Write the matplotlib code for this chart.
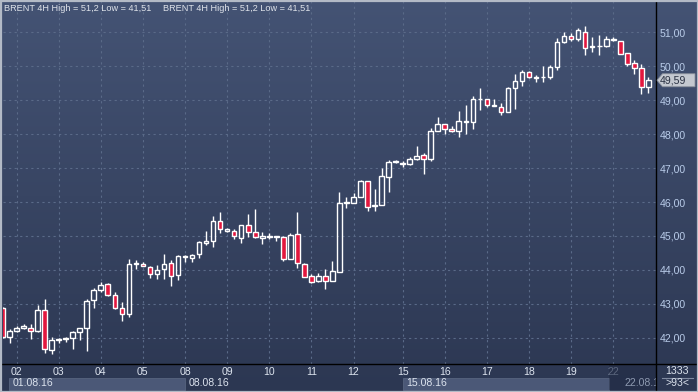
import numpy as np
import matplotlib
matplotlib.use("Agg")
import matplotlib.pyplot as plt
from matplotlib.colors import LinearSegmentedColormap
from matplotlib.patches import Rectangle, Polygon
from matplotlib.lines import Line2D
from matplotlib.transforms import blended_transform_factory, Bbox, TransformedBbox

# ---------------- data (BRENT, 4H candles, 01.08.16 - 22.08.16) ----------------
opens = [42.88, 42.01, 42.20, 42.29, 42.30, 42.21, 42.83, 41.65, 41.93, 41.97,
         41.98, 42.17, 42.29, 43.10, 43.42, 43.59, 43.27, 42.88, 42.70, 44.17,
         44.17, 44.09, 43.87, 44.03, 44.19, 43.86, 44.38, 44.36, 44.46, 44.80,
         44.86, 45.43, 45.15, 45.16, 44.95, 45.32, 45.13, 44.93, 44.96, 44.98,
         44.96, 44.32, 45.05, 44.17, 43.82, 43.67, 43.81, 43.68, 43.94, 45.98,
         45.98, 46.16, 46.61, 45.88, 45.91, 46.75, 47.18, 47.12, 47.12, 47.26,
         47.38, 47.26, 48.10, 48.29, 48.15, 48.09, 48.37, 48.36, 49.03, 49.04,
         48.84, 48.80, 48.66, 49.36, 49.57, 49.83, 49.67, 49.68, 49.68, 49.98,
         50.73, 50.88, 50.82, 51.02, 50.56, 50.60, 50.61, 50.79, 50.75, 50.39,
         50.09, 49.95, 49.39]
highs = [42.90, 42.27, 42.34, 42.39, 42.39, 42.97, 43.15, 42.03, 42.00, 42.03,
         42.19, 42.30, 43.15, 43.46, 43.64, 43.62, 43.36, 43.05, 44.31, 44.30,
         44.22, 44.11, 44.13, 44.47, 44.28, 44.44, 44.45, 44.46, 44.85, 45.15,
         45.58, 45.72, 45.23, 45.21, 45.31, 45.64, 45.78, 45.13, 45.09, 45.01,
         45.01, 45.09, 45.70, 44.21, 43.88, 43.90, 44.03, 44.25, 46.31, 46.16,
         46.28, 46.66, 46.62, 46.39, 47.00, 47.25, 47.25, 47.20, 47.32, 47.66,
         47.44, 48.18, 48.52, 48.30, 48.24, 48.68, 48.85, 49.12, 49.36, 49.04,
         49.04, 48.92, 49.38, 49.76, 49.90, 49.87, 49.75, 50.00, 50.04, 50.85,
         51.02, 50.97, 51.12, 51.20, 50.87, 50.92, 50.89, 50.87, 50.76, 50.40,
         50.19, 50.07, 49.70]
lows = [41.98, 41.85, 42.16, 42.25, 41.96, 42.17, 41.55, 41.51, 41.85, 41.88,
        41.66, 41.94, 41.62, 42.87, 43.34, 43.24, 42.85, 42.50, 42.62, 44.04,
        44.10, 43.76, 43.74, 43.73, 43.51, 43.70, 44.23, 44.23, 44.35, 44.73,
        44.68, 45.08, 45.12, 44.90, 44.80, 44.98, 44.93, 44.75, 44.90, 44.86,
        44.26, 44.31, 44.05, 43.78, 43.62, 43.64, 43.43, 43.66, 43.94, 45.83,
        45.96, 46.15, 45.75, 45.75, 45.91, 46.31, 47.14, 47.02, 47.10, 47.23,
        46.83, 47.20, 48.08, 48.00, 48.07, 47.91, 48.02, 48.14, 48.72, 48.80,
        48.82, 48.56, 48.66, 48.75, 49.41, 49.66, 49.53, 49.55, 49.62, 49.90,
        50.68, 50.75, 50.75, 50.32, 50.43, 50.34, 50.58, 50.75, 50.35, 50.01,
        49.77, 49.17, 49.21]
closes = [42.01, 42.20, 42.29, 42.35, 42.21, 42.83, 41.66, 41.92, 41.97, 42.00,
          42.17, 42.29, 43.08, 43.42, 43.56, 43.27, 42.88, 42.71, 44.18, 44.19,
          44.11, 43.87, 44.00, 44.16, 43.83, 44.42, 44.42, 44.45, 44.81, 44.86,
          45.43, 45.20, 45.19, 45.00, 45.31, 45.11, 44.96, 44.99, 45.00, 45.00,
          44.31, 45.02, 44.21, 43.79, 43.65, 43.81, 43.68, 43.98, 45.98, 46.00,
          46.16, 46.61, 45.85, 45.90, 46.78, 47.18, 47.20, 47.14, 47.26, 47.36,
          47.26, 48.10, 48.29, 48.15, 48.10, 48.39, 48.38, 49.04, 49.04, 48.85,
          48.85, 48.66, 49.36, 49.58, 49.83, 49.69, 49.68, 49.69, 49.99, 50.73,
          50.90, 50.82, 51.06, 50.53, 50.61, 50.61, 50.82, 50.81, 50.36, 50.07,
          49.95, 49.39, 49.59]

day_labels = ['02', '03', '04', '05', '08', '09', '10', '11', '12',
              '15', '16', '17', '18', '19', '22']
day_start = [2, 8, 14, 20, 26, 32, 38, 44, 50, 57, 63, 69, 75, 81, 87]
week_labels = ['01.08.16', '08.08.16', '15.08.16', '22.08.16']
week_start = [-4, 26, 57, 87]
price_ticks = [42, 43, 44, 45, 46, 47, 48, 49, 50, 51]
last_price = 49.59
title_text = 'BRENT 4H High = 51,2 Low = 41,51'
bar_count_text = '1333'
visible_text = '>93<'

# ---------------- styling ----------------
W, H = 698, 392
BG_TOP, BG_BOT = '#445374', '#2c3752'
GRID = '#5a6a88'
RED = '#e3173e'
AX_TXT = '#b9cce9'
LBL_TXT = '#dce3ee'
DIM_TXT = '#8e9ab0'
FONT = 'Liberation Sans'
FS = 7.6
plt.rcParams['font.family'] = [FONT, 'DejaVu Sans']

fig = plt.figure(figsize=(W / 100, H / 100), dpi=100)

# gradient background
bg = fig.add_axes([0, 0, 1, 1])
bg.axis('off')
cmap = LinearSegmentedColormap.from_list('bg', [BG_TOP, BG_BOT])
bg.imshow(np.linspace(0, 1, 256)[:, None], aspect='auto', cmap=cmap,
          extent=[0, 1, 0, 1], zorder=0)
bg.set_xlim(0, 1); bg.set_ylim(0, 1)

# main plot area in pixels
L, R, T, B = 3.0, 655.5, 1.0, 363.5
PX_PER_BAR, X0 = 7.02, 2.5
ax = fig.add_axes([L / W, (H - B) / H, (R - L) / W, (B - T) / H])
ax.patch.set_alpha(0)

x = np.arange(len(opens))
o = np.array(opens); c = np.array(closes); h = np.array(highs); l = np.array(lows)
top = np.maximum(o, c); bot = np.minimum(o, c)
up = c >= o

ax.vlines(x, top, h, color='white', lw=1.0, zorder=3)
ax.vlines(x, l, bot, color='white', lw=1.0, zorder=3)
hgt = np.maximum(top - bot, 0.004)
ax.bar(x[up], hgt[up], bottom=bot[up], width=0.66,
       facecolor='none', edgecolor='white', linewidth=1.0, zorder=4)
ax.bar(x[~up], hgt[~up], bottom=bot[~up], width=0.66,
       facecolor=RED, edgecolor='white', linewidth=1.0, zorder=4)

# scales (pixel calibration: 7.02 px per candle, 33.92 px per unit)
ax.set_xlim((L - X0) / PX_PER_BAR, (R - X0) / PX_PER_BAR)
ax.set_ylim(42 - (B - 337.7) / 33.92, 42 + (337.7 - T) / 33.92)

for v in price_ticks:
    ax.axhline(v, color=GRID, lw=0.8, ls=(0, (2, 3)), zorder=1)
for k in day_start:
    ax.axvline(k, color=GRID, lw=0.8, ls=(0, (2, 3)), zorder=1)

ax.set_yticks(price_ticks)
ax.set_yticklabels([f'{v:.2f}'.replace('.', ',') for v in price_ticks])
ax.yaxis.tick_right()
ax.tick_params(axis='y', length=0, pad=3, labelsize=FS, labelcolor=AX_TXT)
ax.set_xticks(day_start)
ax.set_xticklabels(day_labels)
ax.tick_params(axis='x', length=0, pad=2.5, labelsize=FS, labelcolor=LBL_TXT)
ax.get_xticklabels()[-1].set_color(DIM_TXT)
for s in ax.spines.values():
    s.set_visible(False)

# bottom strip: week boxes
bt = blended_transform_factory(ax.transData, fig.transFigure)
k_left = (9 - X0) / PX_PER_BAR
k_right = (608.5 - X0) / PX_PER_BAR
y0, y1 = (H - 389.5) / H, (H - 377.5) / H
clip = TransformedBbox(Bbox([[0, 0], [R / W, 1]]), fig.transFigure)
for i, (lab, ws) in enumerate(zip(week_labels, week_start)):
    a = max(ws, k_left)
    if i < len(week_start) - 1:
        e = min(week_start[i + 1], k_right) if i < 2 else k_right
        if i % 2 == 0:
            fig.patches.append(Rectangle((a, y0), e - a, y1 - y0, transform=bt,
                                         facecolor='#4b5877', edgecolor='#57647f',
                                         lw=0.6, zorder=1))
        col = LBL_TXT
        tx = a + 0.53
    else:
        col = DIM_TXT
        tx = a + 1.55
    t = fig.text(tx, (H - 383) / H, lab, transform=bt, ha='left',
                 va='center', fontsize=FS, color=col, zorder=3)
    t.set_clip_on(True)
    t.set_clip_box(clip)
# dark overlay for current week
fig.patches.append(Rectangle((608.5 / W, (H - 390) / H), (R - 608.5) / W,
                             (390 - B) / H, transform=fig.transFigure,
                             facecolor='#1e2740', alpha=0.45, edgecolor='none',
                             zorder=2))

# axis lines
fig.add_artist(Line2D([0, 1], [(H - B) / H] * 2, color='black', lw=1.0,
                      transform=fig.transFigure, zorder=5))
fig.add_artist(Line2D([R / W] * 2, [0, 1], color='black', lw=1.0,
                      transform=fig.transFigure, zorder=5))

# last price tag
fig.canvas.draw()
px, py = ax.transData.transform((0, last_price))
pyf = py / H
tip = (R + 1.5) / W
pts = [(tip, pyf), ((R + 7) / W, pyf + 6.5 / H), (695 / W, pyf + 6.5 / H),
       (695 / W, pyf - 6.5 / H), ((R + 7) / W, pyf - 6.5 / H)]
fig.patches.append(Polygon(pts, closed=True, transform=fig.transFigure,
                           facecolor='#c4c8d0', edgecolor='#8a909c', lw=0.6,
                           zorder=6))
fig.text((R + 4) / W, pyf, f'{last_price:.2f}'.replace('.', ','), ha='left',
         va='center', fontsize=FS, color='#2a3142', zorder=7)

# bottom-right counter
fig.text(677 / W, (H - 370.5) / H, bar_count_text, ha='center', va='center',
         fontsize=FS, color=LBL_TXT)
fig.add_artist(Line2D([662 / W, 693 / W], [(H - 377.5) / H] * 2,
                      color='#7f8aa0', lw=0.8, transform=fig.transFigure))
fig.text(677 / W, (H - 383) / H, visible_text, ha='center', va='center',
         fontsize=FS, color=LBL_TXT)

# titles
for xp in (4, 163):
    fig.text(xp / W, (H - 8.5) / H, title_text, ha='left', va='center',
             fontsize=6.6, color='#dfe3ea')

# outer frame
fig.patches.append(Rectangle((0.5 / W, 0.5 / H), (W - 1) / W, (H - 1) / H,
                             transform=fig.transFigure, facecolor='none',
                             edgecolor='#b3bac6', lw=1.6, zorder=10))

fig.savefig('out.png', dpi=100)
